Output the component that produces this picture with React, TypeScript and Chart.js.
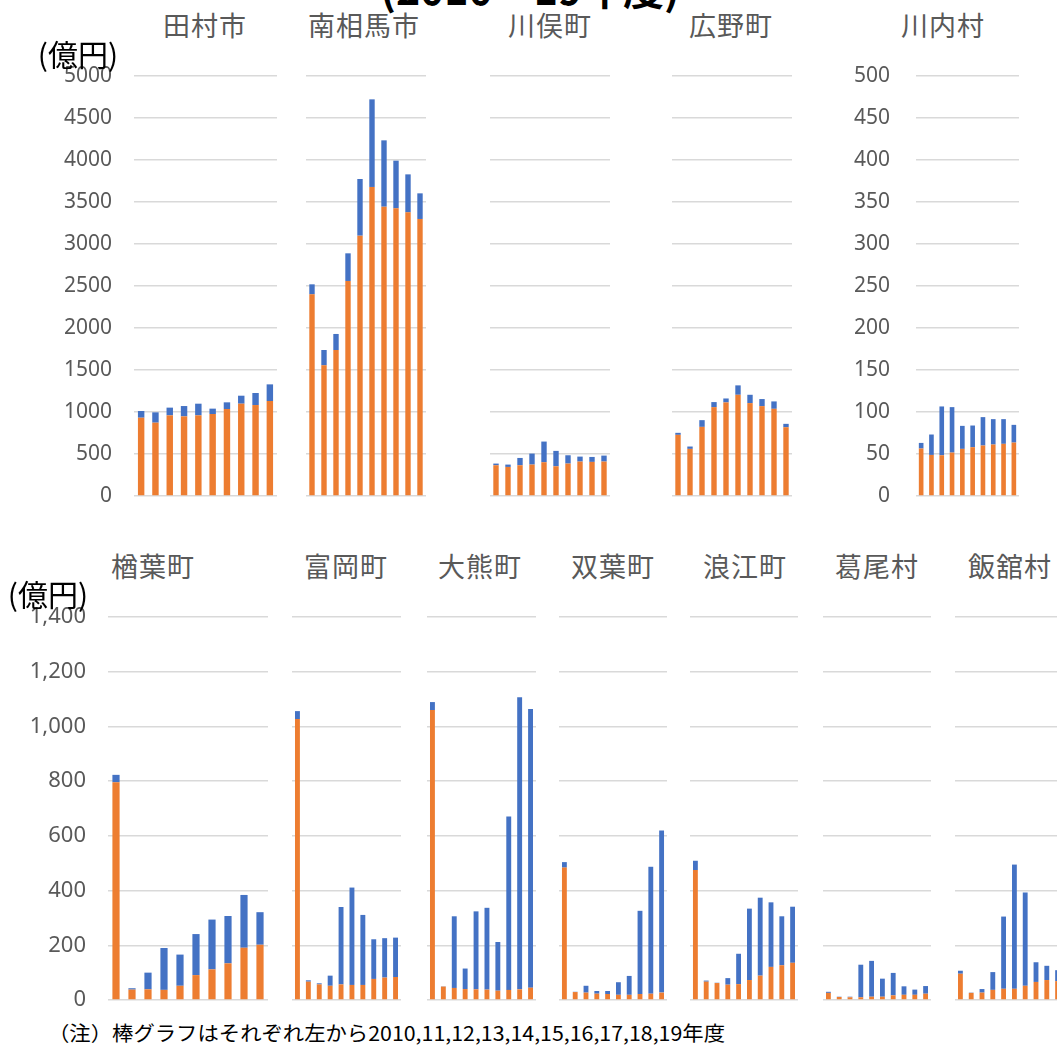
import React, { useEffect, useLayoutEffect, useRef } from "react";
import { Chart, registerables } from "chart.js";
Chart.register(...registerables);

// ---------- data ----------
const YEARS = ["2010", "2011", "2012", "2013", "2014", "2015", "2016", "2017", "2018", "2019"];

const TITLE = "(2010‥19年度)";
const UNIT = "(億円)";
const NOTE = "（注）棒グラフはそれぞれ左から2010,11,12,13,14,15,16,17,18,19年度";

// orange = lower segment, blue = upper segment (億円)
const tamuraOrange = [932, 873, 960, 948, 960, 976, 1036, 1099, 1083, 1131];
const tamuraBlue = [80, 123, 92, 123, 139, 64, 79, 95, 143, 198];

const minamisomaOrange = [2401, 1556, 1738, 2560, 3099, 3679, 3444, 3425, 3377, 3298];
const minamisomaBlue = [119, 182, 191, 329, 675, 1043, 790, 567, 452, 305];

const kawamataOrange = [366, 346, 366, 374, 402, 354, 386, 410, 406, 410];
const kawamataBlue = [20, 28, 87, 131, 246, 183, 99, 59, 59, 71];

const hironoOrange = [728, 561, 823, 1058, 1114, 1205, 1106, 1070, 1038, 819];
const hironoBlue = [24, 28, 80, 60, 47, 112, 99, 84, 88, 40];

const kawauchiOrange = [56.5, 48.9, 48.5, 51.7, 56.1, 58.1, 60.1, 61.3, 62.1, 63.6];
const kawauchiBlue = [6.7, 24.3, 58.1, 54.1, 27.4, 25.8, 33.8, 30.2, 29.4, 21.1];

const narahaOrange = [796, 38, 39, 37, 52, 91, 112, 134, 191, 202];
const narahaBlue = [27, 5, 61, 153, 114, 150, 182, 173, 193, 119];

const tomiokaOrange = [1027, 67, 57, 52, 57, 55, 55, 77, 82, 84];
const tomiokaBlue = [29, 5, 4, 37, 283, 356, 256, 145, 144, 144];

const okumaOrange = [1060, 49, 44, 40, 39, 38, 34, 37, 39, 45];
const okumaBlue = [29, 1, 262, 75, 285, 299, 178, 634, 1068, 1019];

const futabaOrange = [484, 29, 27, 23, 22, 19, 19, 22, 23, 27];
const futabaBlue = [20, 1, 25, 10, 11, 46, 69, 304, 464, 593];

const namieOrange = [475, 67, 62, 56, 58, 73, 89, 121, 127, 136];
const namieBlue = [34, 4, 1, 24, 111, 261, 285, 236, 179, 205];

const katsuraoOrange = [26, 11, 10, 10, 12, 12, 17, 19, 19, 23];
const katsuraoBlue = [4, 1, 2, 119, 131, 66, 82, 31, 19, 28];

const iitateOrange = [96, 26, 27, 37, 41, 41, 52, 66, 73, 69];
const iitateBlue = [11, 1, 13, 65, 264, 454, 341, 72, 52, 40];

// axis settings
const TOP_MAX = 5000;
const TOP_STEP = 500;
const KAWAUCHI_MAX = 500;
const KAWAUCHI_STEP = 50;
const BOTTOM_MAX = 1400;
const BOTTOM_STEP = 200;

// ---------- styles ----------
const ORANGE = "#ED7D31";
const BLUE = "#4472C4";
const GRID = "#D9D9D9";
const LABEL = "#595959";
const NUM_FONT = '"Noto Sans", "Open Sans", sans-serif';
const JP_FONT = '"Noto Sans CJK JP", "Noto Sans", sans-serif';

type PanelDef = {
  name: string;
  orange: number[];
  blue: number[];
  left: number;
  right: number;
  top: number;
  bottom: number;
  max: number;
  step: number;
  axisW: number;
  pad: number;
  fontSize: number;
  comma: boolean;
  titleX: number;
  titleY: number;
};

const TOP_Y0 = 76;
const TOP_Y1 = 496;
const BOT_Y0 = 617;
const BOT_Y1 = 1000;

const PANELS: PanelDef[] = [
  { name: "田村市", orange: tamuraOrange, blue: tamuraBlue, left: 134, right: 277, top: TOP_Y0, bottom: TOP_Y1, max: TOP_MAX, step: TOP_STEP, axisW: 120, pad: 22, fontSize: 21, comma: false, titleX: 205, titleY: 24 },
  { name: "南相馬市", orange: minamisomaOrange, blue: minamisomaBlue, left: 306, right: 426, top: TOP_Y0, bottom: TOP_Y1, max: TOP_MAX, step: TOP_STEP, axisW: 0, pad: 0, fontSize: 21, comma: false, titleX: 364, titleY: 24 },
  { name: "川俣町", orange: kawamataOrange, blue: kawamataBlue, left: 490, right: 610, top: TOP_Y0, bottom: TOP_Y1, max: TOP_MAX, step: TOP_STEP, axisW: 0, pad: 0, fontSize: 21, comma: false, titleX: 550, titleY: 24 },
  { name: "広野町", orange: hironoOrange, blue: hironoBlue, left: 672, right: 792, top: TOP_Y0, bottom: TOP_Y1, max: TOP_MAX, step: TOP_STEP, axisW: 0, pad: 0, fontSize: 21, comma: false, titleX: 731, titleY: 24 },
  { name: "川内村", orange: kawauchiOrange, blue: kawauchiBlue, left: 916, right: 1019, top: TOP_Y0, bottom: TOP_Y1, max: KAWAUCHI_MAX, step: KAWAUCHI_STEP, axisW: 80, pad: 26, fontSize: 21, comma: false, titleX: 943, titleY: 24 },
  { name: "楢葉町", orange: narahaOrange, blue: narahaBlue, left: 108, right: 268, top: BOT_Y0, bottom: BOT_Y1, max: BOTTOM_MAX, step: BOTTOM_STEP, axisW: 108, pad: 22, fontSize: 22, comma: true, titleX: 153, titleY: 565 },
  { name: "富岡町", orange: tomiokaOrange, blue: tomiokaBlue, left: 292, right: 401, top: BOT_Y0, bottom: BOT_Y1, max: BOTTOM_MAX, step: BOTTOM_STEP, axisW: 0, pad: 0, fontSize: 22, comma: true, titleX: 346, titleY: 565 },
  { name: "大熊町", orange: okumaOrange, blue: okumaBlue, left: 427, right: 536, top: BOT_Y0, bottom: BOT_Y1, max: BOTTOM_MAX, step: BOTTOM_STEP, axisW: 0, pad: 0, fontSize: 22, comma: true, titleX: 480, titleY: 565 },
  { name: "双葉町", orange: futabaOrange, blue: futabaBlue, left: 559, right: 667, top: BOT_Y0, bottom: BOT_Y1, max: BOTTOM_MAX, step: BOTTOM_STEP, axisW: 0, pad: 0, fontSize: 22, comma: true, titleX: 613, titleY: 565 },
  { name: "浪江町", orange: namieOrange, blue: namieBlue, left: 690, right: 798, top: BOT_Y0, bottom: BOT_Y1, max: BOTTOM_MAX, step: BOTTOM_STEP, axisW: 0, pad: 0, fontSize: 22, comma: true, titleX: 745, titleY: 565 },
  { name: "葛尾村", orange: katsuraoOrange, blue: katsuraoBlue, left: 823, right: 931, top: BOT_Y0, bottom: BOT_Y1, max: BOTTOM_MAX, step: BOTTOM_STEP, axisW: 0, pad: 0, fontSize: 22, comma: true, titleX: 877, titleY: 565 },
  { name: "飯舘村", orange: iitateOrange, blue: iitateBlue, left: 955, right: 1063, top: BOT_Y0, bottom: BOT_Y1, max: BOTTOM_MAX, step: BOTTOM_STEP, axisW: 0, pad: 0, fontSize: 22, comma: true, titleX: 1010, titleY: 565 },
];

const PAD_T = 14;
const PAD_B = 16;
const PAD_R = 2;

function Panel({ p }: { p: PanelDef }) {
  const ref = useRef<HTMLCanvasElement>(null);
  const w = p.right - p.left + p.axisW + PAD_R;
  const h = p.bottom - p.top + PAD_T + PAD_B;
  useEffect(() => {
    const chart = new Chart(ref.current!, {
      type: "bar",
      data: {
        labels: YEARS,
        datasets: [
          { data: p.orange, backgroundColor: ORANGE, borderWidth: 0, barPercentage: 0.45, categoryPercentage: 1 },
          { data: p.blue, backgroundColor: BLUE, borderWidth: 0, barPercentage: 0.45, categoryPercentage: 1 },
        ],
      },
      options: {
        responsive: false,
        animation: false,
        devicePixelRatio: 1,
        layout: { padding: { top: PAD_T, bottom: PAD_B, left: 0, right: PAD_R } },
        plugins: { legend: { display: false }, tooltip: { enabled: false } },
        scales: {
          x: { stacked: true, display: false },
          y: {
            stacked: true,
            min: 0,
            max: p.max,
            afterFit: (s: any) => {
              s.width = p.axisW;
              s.paddingTop = 0;
              s.paddingBottom = 0;
            },
            border: { display: false },
            grid: { color: GRID, lineWidth: 1.5, drawTicks: false },
            ticks: {
              display: p.axisW > 0,
              stepSize: p.step,
              padding: p.pad,
              color: LABEL,
              font: { family: NUM_FONT, size: p.fontSize },
              callback: (v: any) => (p.comma ? Number(v).toLocaleString("en-US") : String(v)),
            },
          },
        },
      },
    } as any);
    return () => chart.destroy();
  }, []);
  return (
    <canvas
      ref={ref}
      width={w}
      height={h}
      style={{ position: "absolute", left: p.left - p.axisW, top: p.top - PAD_T, width: w, height: h, display: "block" }}
    />
  );
}

function Note() {
  const ref = useRef<HTMLDivElement>(null);
  useLayoutEffect(() => {
    const el = ref.current!;
    const target = 677;
    const wNow = el.getBoundingClientRect().width;
    if (wNow > 0) el.style.transform = `scaleX(${target / wNow})`;
  }, []);
  return (
    <div
      ref={ref}
      style={{
        position: "absolute",
        left: 48,
        top: 1022,
        fontFamily: JP_FONT,
        fontSize: 20,
        lineHeight: "22px",
        color: "#000",
        whiteSpace: "nowrap",
        transformOrigin: "0 0",
      }}
    >
      {NOTE}
    </div>
  );
}

export default function App() {
  return (
    <div style={{ position: "fixed", left: 0, top: 0, width: 1057, height: 1045, overflow: "hidden", background: "#fff" }}>
      <div
        style={{
          position: "absolute",
          left: 530,
          top: -33,
          transform: "translateX(-50%)",
          fontFamily: JP_FONT,
          fontWeight: 700,
          fontSize: 41,
          lineHeight: "41px",
          whiteSpace: "nowrap",
          color: "#000",
        }}
      >
        {TITLE}
      </div>
      {PANELS.map((p) => (
        <Panel key={p.name} p={p} />
      ))}
      {PANELS.map((p) => (
        <div
          key={"t" + p.name}
          style={{
            position: "absolute",
            left: p.titleX,
            top: p.titleY,
            transform: "translate(-50%, -50%)",
            fontFamily: JP_FONT,
            fontSize: 27,
            lineHeight: "27px",
            letterSpacing: 1,
            color: LABEL,
            whiteSpace: "nowrap",
          }}
        >
          {p.name}
        </div>
      ))}
      {[{ x: 78, y: 53 }, { x: 48, y: 593 }].map((u, i) => (
        <div
          key={"u" + i}
          style={{
            position: "absolute",
            left: u.x,
            top: u.y,
            transform: "translate(-50%, -50%)",
            fontFamily: JP_FONT,
            fontSize: 30,
            lineHeight: "30px",
            color: "#000",
            whiteSpace: "nowrap",
          }}
        >
          {UNIT}
        </div>
      ))}
      <Note />
    </div>
  );
}
